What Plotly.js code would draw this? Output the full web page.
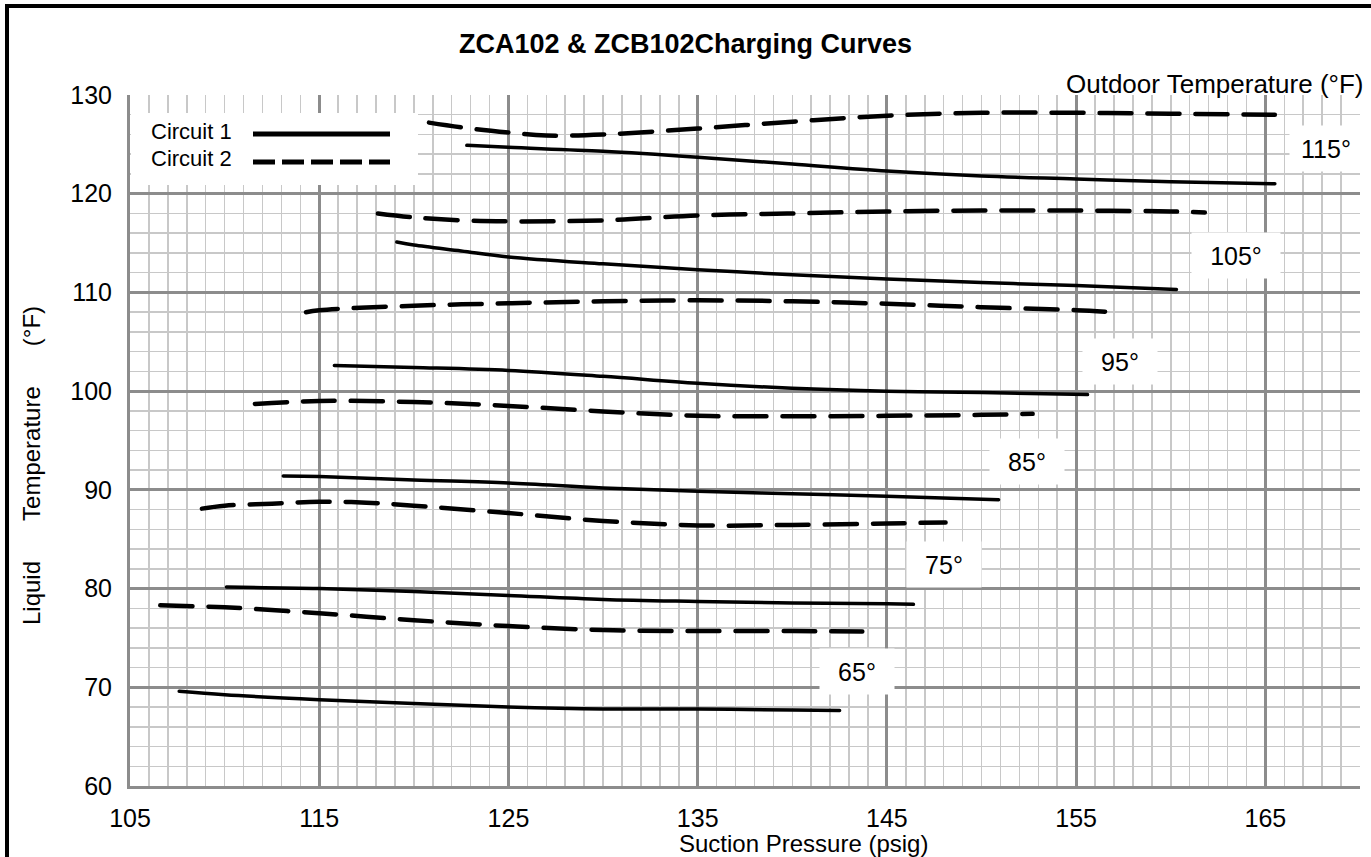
<!DOCTYPE html>
<html>
<head>
<meta charset="utf-8">
<script src="https://cdn.plot.ly/plotly-3.0.1.min.js"></script>
<style>
  html, body { margin: 0; padding: 0; background: #fff; }
  #chart { width: 1371px; height: 857px; }
  .scatterlayer .js-line { stroke-linecap: round; }
</style>
</head>
<body>
<div id="chart"></div>
<script>
// ---------- DATA ----------
// Circuit 1 (solid) curves, x = suction pressure (psig), y = liquid temperature (°F)
const c1_65_x  = [107.6, 110, 115, 120, 125, 130, 135, 140, 142.5];
const c1_65_y  = [69.6, 69.25, 68.75, 68.35, 68.0, 67.8, 67.8, 67.7, 67.65];
const c1_75_x  = [110.1, 115, 120, 125, 130, 135, 140, 145, 146.4];
const c1_75_y  = [80.15, 80.0, 79.7, 79.3, 78.9, 78.7, 78.55, 78.45, 78.4];
const c1_85_x  = [113.1, 115, 120, 125, 130, 135, 140, 145, 150.9];
const c1_85_y  = [91.4, 91.35, 91.0, 90.7, 90.2, 89.85, 89.6, 89.35, 89.0];
const c1_95_x  = [115.8, 120, 125, 130, 135, 140, 145, 150, 155.6];
const c1_95_y  = [102.6, 102.4, 102.1, 101.5, 100.8, 100.3, 100.0, 99.85, 99.65];
const c1_105_x = [119.1, 120, 122.5, 125, 130, 135, 140, 145, 150, 155, 160.3];
const c1_105_y = [115.1, 114.8, 114.2, 113.6, 112.9, 112.3, 111.8, 111.35, 111.0, 110.7, 110.3];
const c1_115_x = [122.8, 125, 130, 135, 140, 145, 150, 155, 160, 165.5];
const c1_115_y = [124.9, 124.7, 124.3, 123.7, 123.0, 122.3, 121.8, 121.5, 121.2, 121.0];

// Circuit 2 (dashed) curves
const c2_65_x  = [106.6, 110, 115, 120, 125, 130, 135, 140, 143.7];
const c2_65_y  = [78.3, 78.1, 77.5, 76.8, 76.2, 75.8, 75.7, 75.7, 75.65];
const c2_75_x  = [108.8, 110, 112.5, 115, 117.5, 120, 125, 130, 135, 140, 145, 148.1];
const c2_75_y  = [88.1, 88.4, 88.6, 88.8, 88.7, 88.4, 87.65, 86.85, 86.4, 86.45, 86.6, 86.7];
const c2_85_x  = [111.6, 115, 120, 125, 130, 135, 140, 145, 150, 152.7];
const c2_85_y  = [98.7, 99.0, 98.9, 98.5, 97.95, 97.5, 97.45, 97.5, 97.6, 97.7];
const c2_95_x  = [114.3, 115, 120, 125, 130, 135, 140, 145, 150, 155, 157];
const c2_95_y  = [108.0, 108.2, 108.65, 108.9, 109.1, 109.2, 109.1, 108.85, 108.5, 108.2, 108.0];
const c2_105_x = [118.1, 120, 122.5, 125, 130, 135, 140, 145, 150, 155, 160, 161.8];
const c2_105_y = [118.0, 117.6, 117.3, 117.2, 117.3, 117.8, 118.0, 118.2, 118.3, 118.3, 118.2, 118.1];
const c2_115_x = [120.8, 123, 125, 127, 130, 135, 140, 145, 150, 155, 160, 165.5];
const c2_115_y = [127.2, 126.6, 126.2, 125.9, 126.0, 126.6, 127.3, 127.9, 128.2, 128.2, 128.1, 128.0];

// Outdoor temperature labels
const tempLabels = ['65°', '75°', '85°', '95°', '105°', '115°'];

// Axis tick values / labels
const xTickVals = [105, 115, 125, 135, 145, 155, 165];
const yTickVals = [60, 70, 80, 90, 100, 110, 120, 130];

const legendNames = ['Circuit 1', 'Circuit 2'];

// ---------- LAYOUT CONSTANTS ----------
const W = 1371, H = 857;
const ML = 130, MR = 11, MT = 95, MB = 71;
const PW = W - ML - MR, PH = H - MT - MB;
const px = v => (v - ML) / PW;            // pixel x -> paper x
const py = v => (H - MB - v) / PH;        // pixel y -> paper y

const FONT = 'Liberation Sans, Arial, Helvetica, sans-serif';

// Label placement (data coords) and box sizes
const labelPos = {
  '65°':  {x: 143.42, y: 71.56, w: 72},
  '75°':  {x: 148.02, y: 82.4,  w: 72},
  '85°':  {x: 152.4,  y: 92.92, w: 72},
  '95°':  {x: 157.32, y: 103.05, w: 72},
  '105°': {x: 163.45, y: 113.79, w: 86},
  '115°': {x: 168.2,  y: 124.6, w: 70}
};

const solidStyle  = {color: '#000', width: 3.5, shape: 'spline', smoothing: 1};
const dashedStyle = {color: '#000', width: 4.5, shape: 'spline', smoothing: 1, dash: '32px,16px'};

const c1 = [[c1_65_x, c1_65_y], [c1_75_x, c1_75_y], [c1_85_x, c1_85_y],
            [c1_95_x, c1_95_y], [c1_105_x, c1_105_y], [c1_115_x, c1_115_y]];
const c2 = [[c2_65_x, c2_65_y], [c2_75_x, c2_75_y], [c2_85_x, c2_85_y],
            [c2_95_x, c2_95_y], [c2_105_x, c2_105_y], [c2_115_x, c2_115_y]];

const traces = [];
c1.forEach((d, i) => traces.push({
  x: d[0], y: d[1], type: 'scatter', mode: 'lines',
  name: legendNames[0] + ' ' + tempLabels[i], line: solidStyle, hoverinfo: 'skip'
}));
c2.forEach((d, i) => traces.push({
  x: d[0], y: d[1], type: 'scatter', mode: 'lines',
  name: legendNames[1] + ' ' + tempLabels[i], line: dashedStyle, hoverinfo: 'skip'
}));

const annotations = [];
tempLabels.forEach(t => {
  const p = labelPos[t];
  annotations.push({
    x: p.x, y: p.y, xref: 'x', yref: 'y', text: t, showarrow: false,
    font: {family: FONT, size: 25, color: '#000'},
    bgcolor: '#fff', width: p.w, height: 43, align: 'center', valign: 'middle'
  });
});

// Title
annotations.push({
  x: px(685), y: py(44), xref: 'paper', yref: 'paper', showarrow: false,
  text: '<b>ZCA102 &amp; ZCB102Charging Curves</b>', xanchor: 'center', yanchor: 'middle',
  font: {family: FONT, size: 27, color: '#000'}
});
// Outdoor temperature header
annotations.push({
  x: px(1365), y: py(84), xref: 'paper', yref: 'paper', showarrow: false,
  text: 'Outdoor Temperature (°F)', xanchor: 'right', yanchor: 'middle',
  font: {family: FONT, size: 26, color: '#000'}
});
// Axis titles
annotations.push({
  x: px(803), y: py(843), xref: 'paper', yref: 'paper', showarrow: false,
  text: 'Suction Pressure (psig)', xanchor: 'center', yanchor: 'middle',
  font: {family: FONT, size: 24, color: '#000'}
});
const sp = '\u00A0\u00A0\u00A0\u00A0\u00A0\u00A0';
annotations.push({
  x: px(31), y: py(466), xref: 'paper', yref: 'paper', showarrow: false,
  text: 'Liquid' + sp + 'Temperature' + sp + '(°F)', textangle: -90,
  xanchor: 'center', yanchor: 'middle',
  font: {family: FONT, size: 24, color: '#000'}
});
// Legend text
annotations.push({
  x: px(149), y: py(131), xref: 'paper', yref: 'paper', showarrow: false,
  text: legendNames[0], xanchor: 'left', yanchor: 'middle',
  font: {family: FONT, size: 22, color: '#000'}
});
annotations.push({
  x: px(149), y: py(159), xref: 'paper', yref: 'paper', showarrow: false,
  text: legendNames[1], xanchor: 'left', yanchor: 'middle',
  font: {family: FONT, size: 22, color: '#000'}
});

const shapes = [
  // legend box
  {type: 'rect', xref: 'paper', yref: 'paper', x0: px(131), x1: px(418), y0: py(185), y1: py(113),
   fillcolor: '#fff', line: {width: 0}, layer: 'above'},
  // legend sample lines
  {type: 'line', xref: 'paper', yref: 'paper', x0: px(253), x1: px(390), y0: py(134), y1: py(134),
   line: {color: '#000', width: 5}, layer: 'above'},
  {type: 'line', xref: 'paper', yref: 'paper', x0: px(253), x1: px(390), y0: py(162), y1: py(162),
   line: {color: '#000', width: 5, dash: '22px,7px'}, layer: 'above'},
  // outer frame (left and top)
  {type: 'line', xref: 'paper', yref: 'paper', x0: px(7), x1: px(7), y0: py(6), y1: py(870),
   line: {color: '#000', width: 4}},
  {type: 'line', xref: 'paper', yref: 'paper', x0: px(5), x1: px(1380), y0: py(6), y1: py(6),
   line: {color: '#000', width: 4}}
];

const layout = {
  width: W, height: H,
  margin: {l: ML, r: MR, t: MT, b: MB, pad: 0},
  paper_bgcolor: '#fff', plot_bgcolor: '#fff',
  showlegend: false,
  font: {family: FONT, size: 25, color: '#000'},
  xaxis: {
    range: [105, 170], tickmode: 'array', tickvals: xTickVals, ticktext: xTickVals.map(String),
    showgrid: true, gridcolor: '#8c8c8c', gridwidth: 3,
    minor: {dtick: 1, tick0: 105, showgrid: true, gridcolor: '#c8c8c8', gridwidth: 1.5},
    showline: true, linecolor: '#8c8c8c', linewidth: 3,
    zeroline: false, ticks: '', ticklabelstandoff: 8,
    tickfont: {family: FONT, size: 25, color: '#000'}, fixedrange: true
  },
  yaxis: {
    range: [60, 130], tickmode: 'array', tickvals: yTickVals, ticktext: yTickVals.map(String),
    showgrid: true, gridcolor: '#8c8c8c', gridwidth: 3,
    minor: {dtick: 2, tick0: 60, showgrid: true, gridcolor: '#c8c8c8', gridwidth: 1.5},
    showline: true, linecolor: '#8c8c8c', linewidth: 3,
    zeroline: false, ticks: '', ticklabelstandoff: 10,
    tickfont: {family: FONT, size: 25, color: '#000'}, fixedrange: true
  },
  annotations: annotations,
  shapes: shapes
};

Plotly.newPlot('chart', traces, layout, {displayModeBar: false, staticPlot: true});
</script>
</body>
</html>
